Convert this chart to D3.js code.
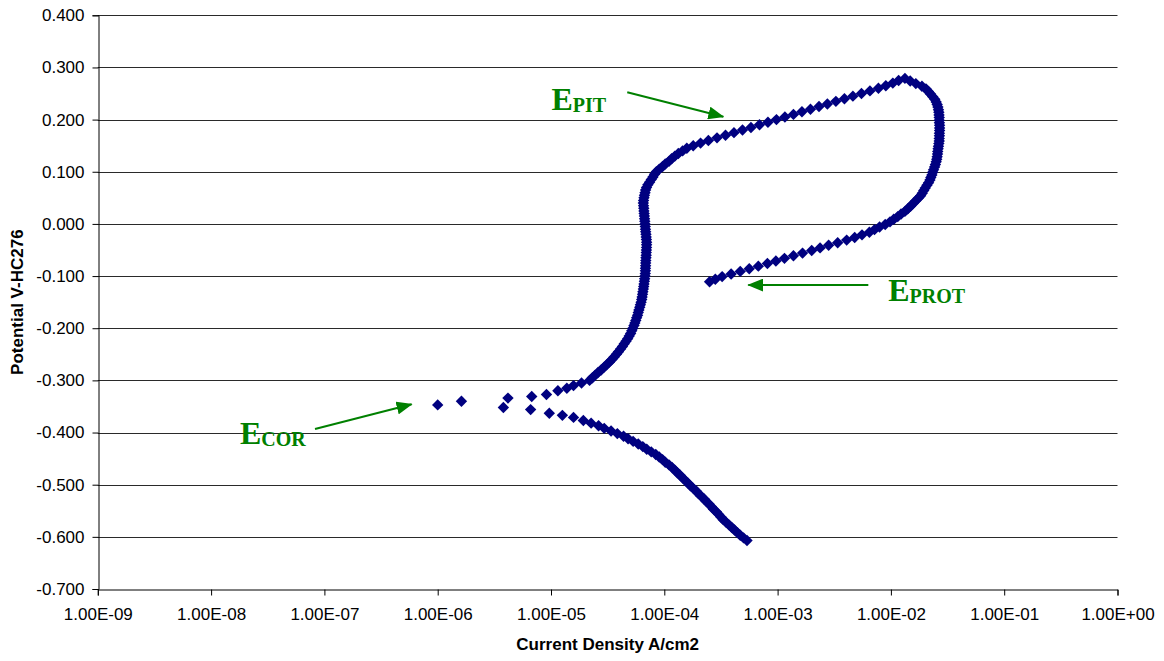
<!DOCTYPE html>
<html>
<head>
<meta charset="utf-8">
<script src="https://cdn.jsdelivr.net/npm/d3@7/dist/d3.min.js"></script>
<style>
  body { margin: 0; background: #fff; }
  svg { display: block; }
  .tick text { font-family: "Liberation Sans", Arial, sans-serif; font-size: 17px; fill: #000; }
  .axis-title { font-family: "Liberation Sans", Arial, sans-serif; font-size: 17px; font-weight: bold; }
  .note { font-family: "Liberation Serif", "Times New Roman", serif; font-weight: bold; fill: #008000; }
</style>
</head>
<body>
<svg id="chart"></svg>
<script>
// potentiodynamic scan, [potential V, current density A/cm2]
const cathodicScan = [
  [-0.607, 5.37e-4], [-0.602, 5.01e-4], [-0.597, 4.68e-4], [-0.592, 4.42e-4], [-0.587, 4.17e-4],
  [-0.582, 3.94e-4], [-0.577, 3.72e-4], [-0.572, 3.51e-4], [-0.567, 3.31e-4], [-0.562, 3.16e-4],
  [-0.557, 3.02e-4], [-0.552, 2.88e-4], [-0.547, 2.72e-4], [-0.542, 2.60e-4], [-0.537, 2.48e-4],
  [-0.532, 2.34e-4], [-0.527, 2.24e-4], [-0.522, 2.11e-4], [-0.517, 2.00e-4], [-0.512, 1.91e-4],
  [-0.507, 1.80e-4], [-0.502, 1.70e-4], [-0.497, 1.62e-4], [-0.492, 1.53e-4], [-0.487, 1.45e-4],
  [-0.482, 1.38e-4], [-0.477, 1.30e-4], [-0.472, 1.24e-4], [-0.467, 1.17e-4], [-0.462, 1.10e-4],
  [-0.457, 1.02e-4], [-0.452, 9.66e-5], [-0.447, 9.02e-5], [-0.442, 8.41e-5], [-0.437, 7.67e-5],
  [-0.432, 7.00e-5], [-0.427, 6.46e-5], [-0.422, 5.89e-5], [-0.417, 5.31e-5], [-0.412, 4.79e-5],
  [-0.407, 4.37e-5], [-0.402, 3.85e-5], [-0.397, 3.39e-5], [-0.392, 2.95e-5], [-0.387, 2.63e-5],
  [-0.382, 2.26e-5], [-0.377, 1.93e-5], [-0.371, 1.58e-5], [-0.367, 1.26e-5], [-0.363, 9.66e-6],
  [-0.356, 6.61e-6], [-0.352, 3.80e-6], [-0.347, 1.00e-6], [-0.340, 1.62e-6], [-0.334, 4.17e-6],
  [-0.331, 6.76e-6], [-0.327, 9.12e-6], [-0.320, 1.15e-5], [-0.315, 1.38e-5]
];

const anodicScan = [
  [-0.310, 1.58e-5], [-0.305, 1.86e-5], [-0.300, 2.19e-5], [-0.295, 2.32e-5], [-0.290, 2.45e-5],
  [-0.285, 2.60e-5], [-0.280, 2.77e-5], [-0.275, 2.93e-5], [-0.270, 3.10e-5], [-0.265, 3.27e-5],
  [-0.260, 3.45e-5], [-0.255, 3.61e-5], [-0.250, 3.78e-5], [-0.245, 3.94e-5], [-0.240, 4.11e-5],
  [-0.235, 4.27e-5], [-0.230, 4.43e-5], [-0.225, 4.59e-5], [-0.220, 4.75e-5], [-0.215, 4.90e-5],
  [-0.210, 5.04e-5], [-0.205, 5.16e-5], [-0.200, 5.28e-5], [-0.195, 5.40e-5], [-0.190, 5.50e-5],
  [-0.185, 5.60e-5], [-0.180, 5.70e-5], [-0.175, 5.81e-5], [-0.170, 5.89e-5], [-0.165, 5.97e-5],
  [-0.160, 6.07e-5], [-0.155, 6.15e-5], [-0.150, 6.24e-5], [-0.145, 6.32e-5], [-0.140, 6.37e-5],
  [-0.135, 6.43e-5], [-0.130, 6.47e-5], [-0.125, 6.53e-5], [-0.120, 6.58e-5], [-0.115, 6.62e-5],
  [-0.110, 6.67e-5], [-0.105, 6.71e-5], [-0.100, 6.76e-5], [-0.095, 6.79e-5], [-0.090, 6.81e-5],
  [-0.085, 6.82e-5], [-0.080, 6.84e-5], [-0.075, 6.85e-5], [-0.070, 6.87e-5], [-0.065, 6.89e-5],
  [-0.060, 6.92e-5], [-0.055, 6.93e-5], [-0.050, 6.95e-5], [-0.045, 6.97e-5], [-0.040, 6.98e-5],
  [-0.035, 6.98e-5], [-0.030, 6.95e-5], [-0.025, 6.92e-5], [-0.020, 6.89e-5], [-0.015, 6.85e-5],
  [-0.010, 6.82e-5], [-0.005, 6.79e-5], [0.000, 6.76e-5], [0.005, 6.73e-5], [0.010, 6.70e-5],
  [0.015, 6.67e-5], [0.020, 6.64e-5], [0.025, 6.61e-5], [0.030, 6.59e-5], [0.035, 6.56e-5],
  [0.040, 6.53e-5], [0.045, 6.56e-5], [0.050, 6.62e-5], [0.055, 6.68e-5], [0.060, 6.76e-5],
  [0.065, 6.84e-5], [0.070, 6.97e-5], [0.075, 7.16e-5], [0.080, 7.41e-5], [0.085, 7.67e-5],
  [0.090, 7.94e-5], [0.095, 8.20e-5], [0.100, 8.51e-5], [0.105, 9.02e-5], [0.110, 9.66e-5],
  [0.115, 1.02e-4], [0.120, 1.10e-4], [0.125, 1.16e-4], [0.130, 1.24e-4], [0.135, 1.33e-4],
  [0.140, 1.45e-4], [0.145, 1.58e-4], [0.150, 1.80e-4], [0.155, 2.09e-4], [0.160, 2.45e-4],
  [0.165, 2.92e-4], [0.170, 3.47e-4], [0.175, 4.12e-4], [0.180, 4.90e-4], [0.185, 5.82e-4],
  [0.190, 6.92e-4], [0.195, 8.22e-4], [0.200, 9.77e-4], [0.205, 1.16e-3], [0.210, 1.38e-3],
  [0.215, 1.64e-3], [0.220, 1.95e-3], [0.225, 2.32e-3], [0.230, 2.75e-3], [0.235, 3.27e-3],
  [0.240, 3.89e-3], [0.245, 4.62e-3], [0.250, 5.50e-3], [0.255, 6.53e-3], [0.260, 7.76e-3],
  [0.265, 9.02e-3], [0.270, 1.04e-2], [0.275, 1.17e-2], [0.279, 1.33e-2]
];

const reverseScan = [
  [0.274, 1.48e-2], [0.269, 1.66e-2], [0.264, 1.88e-2], [0.259, 2.04e-2], [0.254, 2.14e-2],
  [0.249, 2.24e-2], [0.244, 2.34e-2], [0.239, 2.44e-2], [0.234, 2.51e-2], [0.229, 2.56e-2],
  [0.224, 2.60e-2], [0.219, 2.63e-2], [0.214, 2.65e-2], [0.209, 2.66e-2], [0.204, 2.67e-2],
  [0.199, 2.67e-2], [0.194, 2.68e-2], [0.189, 2.69e-2], [0.184, 2.69e-2], [0.179, 2.69e-2],
  [0.174, 2.68e-2], [0.169, 2.68e-2], [0.164, 2.67e-2], [0.159, 2.67e-2], [0.154, 2.65e-2],
  [0.149, 2.63e-2], [0.144, 2.61e-2], [0.139, 2.59e-2], [0.134, 2.58e-2], [0.129, 2.56e-2],
  [0.124, 2.54e-2], [0.119, 2.51e-2], [0.114, 2.47e-2], [0.109, 2.43e-2], [0.104, 2.38e-2],
  [0.099, 2.34e-2], [0.094, 2.30e-2], [0.089, 2.25e-2], [0.084, 2.21e-2], [0.079, 2.15e-2],
  [0.074, 2.08e-2], [0.069, 2.01e-2], [0.064, 1.95e-2], [0.059, 1.89e-2], [0.054, 1.83e-2],
  [0.049, 1.74e-2], [0.044, 1.65e-2], [0.039, 1.57e-2], [0.034, 1.49e-2], [0.029, 1.41e-2],
  [0.024, 1.33e-2], [0.019, 1.23e-2], [0.014, 1.15e-2], [0.009, 1.06e-2], [0.004, 9.82e-3],
  [-0.001, 8.91e-3], [-0.006, 7.94e-3], [-0.011, 7.16e-3], [-0.016, 6.46e-3], [-0.021, 5.56e-3],
  [-0.026, 4.79e-3], [-0.031, 4.07e-3], [-0.036, 3.39e-3], [-0.041, 2.82e-3], [-0.046, 2.37e-3],
  [-0.051, 2.00e-3], [-0.056, 1.66e-3], [-0.061, 1.38e-3], [-0.066, 1.15e-3], [-0.071, 9.66e-4],
  [-0.076, 8.13e-4], [-0.081, 6.76e-4], [-0.086, 5.62e-4], [-0.091, 4.68e-4], [-0.096, 3.89e-4],
  [-0.101, 3.24e-4], [-0.106, 2.82e-4], [-0.111, 2.51e-4]
];

const xTicks = [1e-9, 1e-8, 1e-7, 1e-6, 1e-5, 1e-4, 1e-3, 1e-2, 1e-1, 1];
const yTicks = [-0.7, -0.6, -0.5, -0.4, -0.3, -0.2, -0.1, 0, 0.1, 0.2, 0.3, 0.4];

// labelled arrows, points as [current, potential]
const notes = [
  { sub: "PIT",  label: [1.01e-5, 0.2184],  from: [4.71e-5, 0.2523], to: [3.32e-4, 0.2056] },
  { sub: "PROT", label: [9.48e-3, -0.1478], from: [6.32e-3, -0.1172], to: [5.51e-4, -0.1172] },
  { sub: "COR",  label: [1.80e-8, -0.4211], from: [8.26e-8, -0.3933], to: [5.89e-7, -0.3459] }
];

const W = 1164, H = 661;
const margin = { top: 15.3, right: 46.5, bottom: 72, left: 97.8 };

const svg = d3.select("#chart").attr("width", W).attr("height", H);

const x = d3.scaleLog().domain([1e-9, 1]).range([margin.left, W - margin.right]);
const y = d3.scaleLinear().domain([-0.7, 0.4]).range([H - margin.bottom, margin.top]);

const expFmt = d => {
  const e = Math.round(Math.log10(d));
  const s = e < 0 ? "-" : "+";
  return "1.00E" + s + String(Math.abs(e)).padStart(2, "0");
};

// horizontal gridlines
svg.append("g")
  .selectAll("line")
  .data(yTicks.filter(d => d > -0.7))
  .join("line")
  .attr("x1", x(1e-9)).attr("x2", x(1))
  .attr("y1", d => Math.round(y(d)) + 0.5).attr("y2", d => Math.round(y(d)) + 0.5)
  .attr("stroke", "#2a2a2a").attr("stroke-width", 1);

const xAxis = svg.append("g")
  .attr("transform", `translate(0,${Math.round(y(-0.7)) + 0.5})`)
  .call(d3.axisBottom(x).tickValues(xTicks).tickFormat(expFmt).tickSize(6).tickPadding(12));

const yAxis = svg.append("g")
  .attr("transform", `translate(${Math.round(x(1e-9)) + 0.5},0)`)
  .call(d3.axisLeft(y).tickValues(yTicks).tickFormat(d => d.toFixed(3)).tickSize(6).tickPadding(8));

[xAxis, yAxis].forEach(g => {
  g.select(".domain").attr("stroke", "#000");
  g.selectAll(".tick line").attr("stroke", "#000");
  g.attr("font-family", null).attr("font-size", null);
});

svg.append("text")
  .attr("class", "axis-title")
  .attr("x", (x(1e-9) + x(1)) / 2)
  .attr("y", 650)
  .attr("text-anchor", "middle")
  .text("Current Density A/cm2");

svg.append("text")
  .attr("class", "axis-title")
  .attr("transform", `translate(23,${(y(-0.7) + y(0.4)) / 2}) rotate(-90)`)
  .attr("text-anchor", "middle")
  .text("Potential V-HC276");

// data markers
const diamond = "M0,-5.7L5.7,0L0,5.7L-5.7,0Z";
const allPoints = cathodicScan.concat(anodicScan, reverseScan);
svg.append("g")
  .selectAll("path")
  .data(allPoints)
  .join("path")
  .attr("d", diamond)
  .attr("transform", d => `translate(${x(d[1])},${y(d[0])})`)
  .attr("fill", "#000080");

// annotations
svg.append("defs").append("marker")
  .attr("id", "head")
  .attr("viewBox", "0 0 16 13")
  .attr("markerWidth", 16).attr("markerHeight", 13)
  .attr("markerUnits", "userSpaceOnUse")
  .attr("refX", 15).attr("refY", 6.5)
  .attr("orient", "auto")
  .append("path").attr("d", "M0,0L16,6.5L0,13Z").attr("fill", "#008000");

const ann = svg.append("g");
ann.selectAll("line")
  .data(notes)
  .join("line")
  .attr("x1", d => x(d.from[0])).attr("y1", d => y(d.from[1]))
  .attr("x2", d => x(d.to[0])).attr("y2", d => y(d.to[1]))
  .attr("stroke", "#008000").attr("stroke-width", 2)
  .attr("marker-end", "url(#head)");

const lbl = ann.selectAll("text")
  .data(notes)
  .join("text")
  .attr("class", "note")
  .attr("x", d => x(d.label[0])).attr("y", d => y(d.label[1]));
lbl.append("tspan").attr("font-size", 32).text("E");
lbl.append("tspan").attr("font-size", 20).attr("dy", 2).text(d => d.sub);
</script>
</body>
</html>
